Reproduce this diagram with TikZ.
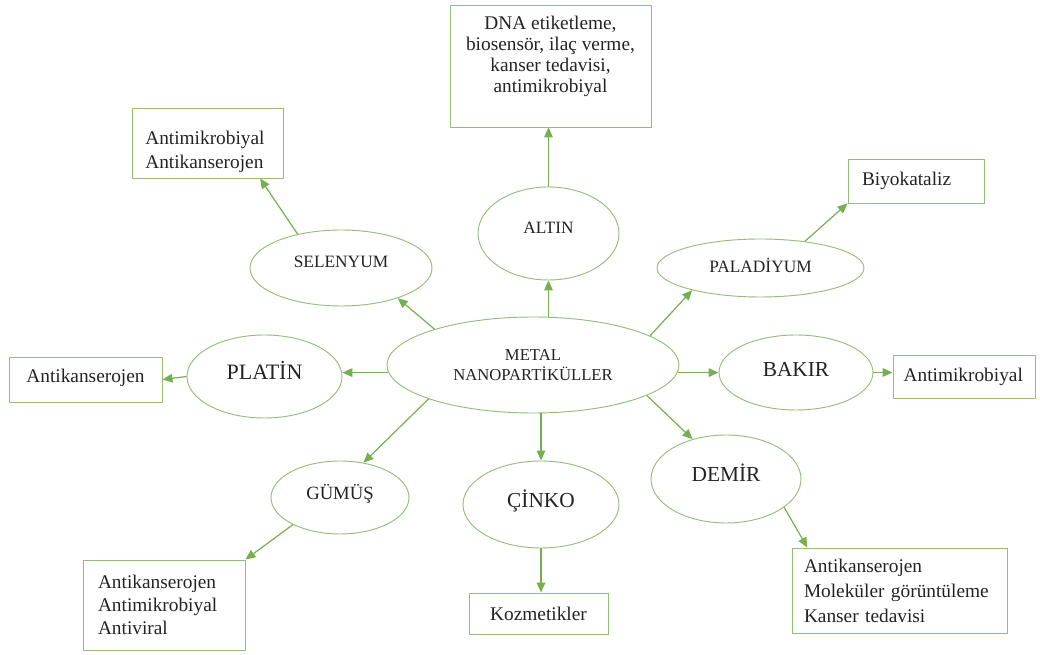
\documentclass[tikz,border=0pt]{standalone}
\usepackage{fontspec}
\setmainfont{Liberation Serif}
\usetikzlibrary{arrows.meta,shapes.geometric}

\definecolor{okgruen}{RGB}{118,174,80}
\definecolor{randgruen}{RGB}{150,188,122}
\definecolor{textgrau}{RGB}{35,35,35}

\begin{document}
\begin{tikzpicture}[x=0.75pt,y=-0.75pt,
    elips/.style={ellipse,draw=randgruen,line width=0.7pt,inner sep=0pt,text=textgrau,text depth=9pt},
    kutu/.style={rectangle,draw=randgruen,line width=0.7pt,inner sep=0pt,text=textgrau,font=\fontsize{14.5}{17}\selectfont},
    pfeil/.style={draw=okgruen,line width=0.9pt,-{Triangle[length=7.5pt,width=6.5pt]}}]
    \useasboundingbox (0,0) rectangle (1040,655);

    % Mitte
    \node[elips,minimum width=219pt,minimum height=72pt,align=center,text depth=0pt,
          font=\fontsize{12.5}{14.5}\selectfont] (metal) at (533,365) {METAL\\NANOPARTİKÜLLER};

    % Metalle
    \node[elips,minimum width=105.75pt,minimum height=69.75pt,font=\fontsize{13}{15}\selectfont] (altin) at (548.5,233.5) {ALTIN};
    \node[elips,minimum width=136.5pt,minimum height=57pt,font=\fontsize{13}{15}\selectfont] (selenyum) at (341,268) {SELENYUM};
    \node[elips,minimum width=155.25pt,minimum height=43.5pt,font=\fontsize{13}{15}\selectfont,text depth=4pt] (paladyum) at (760.5,268) {PALADİYUM};
    \node[elips,minimum width=116.25pt,minimum height=62.25pt,font=\fontsize{16.5}{18}\selectfont] (platin) at (264.5,376.5) {PLATİN};
    \node[elips,minimum width=115.5pt,minimum height=56.25pt,font=\fontsize{16}{18}\selectfont,text depth=5pt] (bakir) at (796,372.5) {BAKIR};
    \node[elips,minimum width=112.5pt,minimum height=66pt,font=\fontsize{16}{18}\selectfont] (demir) at (726,479) {DEMİR};
    \node[elips,minimum width=103.5pt,minimum height=54.75pt,font=\fontsize{14}{16}\selectfont] (gumus) at (340,497.5) {GÜMÜŞ};
    \node[elips,minimum width=117pt,minimum height=65.25pt,font=\fontsize{16}{18}\selectfont] (cinko) at (541,504.5) {ÇİNKO};

    % Kästen
    \node[kutu,minimum width=150.75pt,minimum height=91.5pt,align=center,
          font=\fontsize{14.5}{15.75}\selectfont,text depth=17pt] (altinbox) at (550.5,66)
          {DNA etiketleme,\\biosensör, ilaç verme,\\kanser tedavisi,\\antimikrobiyal};
    \node[kutu,minimum height=52.5pt,inner xsep=10pt,text width=93.25pt,align=left,
          font=\fontsize{14.5}{18}\selectfont,text depth=7.5pt] (selbox) at (207.5,143) {Antimikrobiyal\\Antikanserojen};
    \node[kutu,minimum height=33pt,inner xsep=10.5pt,text width=81pt,align=left] (palbox) at (916,181) {Biyokataliz};
    \node[kutu,minimum width=114.75pt,minimum height=33.75pt,text depth=6pt] (platinbox) at (85.5,379.5) {Antikanserojen};
    \node[kutu,minimum height=32.25pt,inner xsep=8pt,text width=90.5pt,align=left] (bakirbox) at (964,376.5) {Antimikrobiyal};
    \node[kutu,minimum height=63.75pt,inner xsep=9pt,text width=143.25pt,align=left,
          font=\fontsize{14.5}{18.75}\selectfont] (demirbox) at (899.5,590.5) {Antikanserojen\\Moleküler görüntüleme\\Kanser tedavisi};
    \node[kutu,minimum width=104.25pt,minimum height=30.75pt] (cinkobox) at (538.5,613.5) {Kozmetikler};
    \node[kutu,minimum height=67.5pt,inner xsep=11.25pt,text width=99pt,align=left,
          font=\fontsize{14.5}{17.25}\selectfont] (gumusbox) at (164,605) {Antikanserojen\\Antimikrobiyal\\Antiviral};

    % Pfeile
    \draw[pfeil] (metal.north -| altin.south) -- (altin.south);
    \draw[pfeil] (altin.north) -- (altin.north |- altinbox.south);
    \draw[pfeil] (metal.160) -- (selenyum.-28);
    \draw[pfeil] (selenyum.142) -- (selbox.-34);
    \draw[pfeil] (metal.14) -- (paladyum.198);
    \draw[pfeil] (paladyum.31) -- (palbox.south west);
    \draw[pfeil] (metal.183) -- (metal.183 -| platin.east);
    \draw[pfeil] (platin.west) -- (platinbox.east);
    \draw[pfeil] (metal.-3) -- (metal.-3 -| bakir.west);
    \draw[pfeil] (bakir.east) -- (bakir.east -| bakirbox.west);
    \draw[pfeil] (metal.-15) -- (demir.130);
    \draw[pfeil] (demir.-26) -- (demirbox.155);
    \draw[pfeil] (metal.south -| cinko.north) -- (cinko.north);
    \draw[pfeil] (cinko.south) -- (cinko.south |- cinkobox.north);
    \draw[pfeil] (metal.198) -- (gumus.56);
    \draw[pfeil] (gumus.210) -- (gumusbox.north east);
\end{tikzpicture}
\end{document}
